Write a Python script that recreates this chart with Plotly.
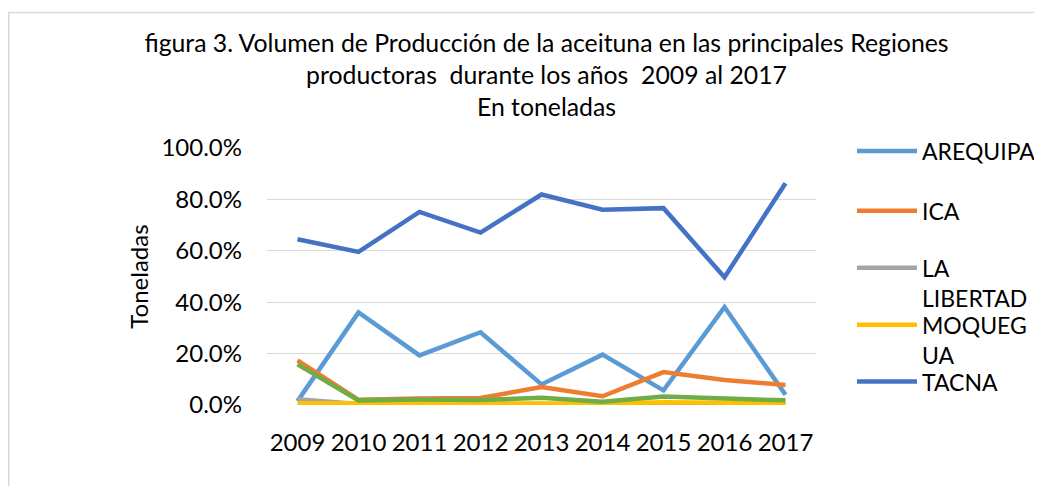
import plotly.graph_objects as go

years = ["2009", "2010", "2011", "2012", "2013", "2014", "2015", "2016", "2017"]
arequipa = [0.015, 0.36, 0.193, 0.283, 0.08, 0.196, 0.057, 0.381, 0.04]
ica = [0.174, 0.02, 0.025, 0.027, 0.07, 0.034, 0.128, 0.097, 0.078]
la_libertad = [0.022, 0.004, 0.004, 0.004, 0.005, 0.004, 0.005, 0.004, 0.004]
moquegua = [0.007, 0.007, 0.007, 0.007, 0.01, 0.006, 0.011, 0.008, 0.007]
tacna = [0.645, 0.596, 0.751, 0.671, 0.819, 0.76, 0.766, 0.497, 0.863]
otra = [0.158, 0.018, 0.021, 0.019, 0.028, 0.013, 0.033, 0.026, 0.018]

names = ["AREQUIPA", "ICA", "LA<br>LIBERTAD", "MOQUEG<br>UA", "TACNA"]
colors = ["#5B9BD5", "#ED7D31", "#A5A5A5", "#FFC000", "#4472C4"]
series = [arequipa, ica, la_libertad, moquegua, tacna]

FONT = "Lato"
FS = 24
LFS = 23

# the page body adds an 8px offset; work in page pixels and convert
OFF = 8
W, H = 1042 - OFF, 486 - OFF
L, R, T, B = 267 - OFF, 816 - OFF, 147.5 - OFF, 405 - OFF

def py(p):  # page y -> paper y
    return (B - (p - OFF)) / (B - T)

def px(p):  # page x -> paper x
    return ((p - OFF) - L) / (R - L)

fig = go.Figure()
legend_ids = ["legend", "legend2", "legend3", "legend4", "legend5"]
for name, col, vals, lid in zip(names, colors, series, legend_ids):
    fig.add_trace(go.Scatter(x=years, y=vals, mode="lines", name=name,
                             line=dict(color=col, width=4.5), legend=lid,
                             cliponaxis=False))
fig.add_trace(go.Scatter(x=years, y=otra, mode="lines", name="",
                         line=dict(color="#70AD47", width=4.5), showlegend=False,
                         cliponaxis=False))

legend_centers = [151, 211, 268, 325, 382]
leg = {}
for lid, yc in zip(legend_ids, legend_centers):
    leg[lid] = dict(x=px(852), y=py(yc - 22), xanchor="left", yanchor="top",
                    bgcolor="rgba(0,0,0,0)", borderwidth=0, valign="top",
                    itemwidth=60, font=dict(family=FONT, size=LFS, color="#000000"),
                    tracegroupgap=0)

fig.update_layout(
    width=W, height=H,
    margin=dict(l=L, r=W - R, t=T, b=H - B, autoexpand=False),
    paper_bgcolor="white", plot_bgcolor="white",
    font=dict(family=FONT, size=FS, color="#000000"),
    title=dict(text="figura 3. Volumen de Producción de la aceituna en las principales Regiones<br>productoras  durante los años  2009 al 2017<br>En toneladas",
               x=(546.5 - OFF) / W, xanchor="center", xref="container",
               y=1 - 44 / H, yanchor="top", font=dict(family=FONT, size=24.8, color="#000000")),
    xaxis=dict(type="category", range=[-0.5, 8.5], showgrid=False, showline=False,
               zeroline=False, ticks="", ticklabelstandoff=21,
               tickfont=dict(family=FONT, size=FS)),
    yaxis=dict(range=[0, 1], dtick=0.2, tickformat=".1%", showgrid=True,
               gridcolor="#D9D9D9", gridwidth=1, zeroline=False, showline=False,
               ticks="", ticklabelstandoff=24, tickfont=dict(family=FONT, size=FS),
               title=dict(text="Toneladas", standoff=6, font=dict(family=FONT, size=FS))),
    **leg,
)

fig.add_shape(type="rect", xref="paper", yref="paper",
              x0=px(8.75), x1=px(1060), y0=py(500), y1=py(11.75),
              line=dict(color="#D9D9D9", width=1.5), fillcolor="rgba(0,0,0,0)", layer="below")

fig.write_html("out.html")
